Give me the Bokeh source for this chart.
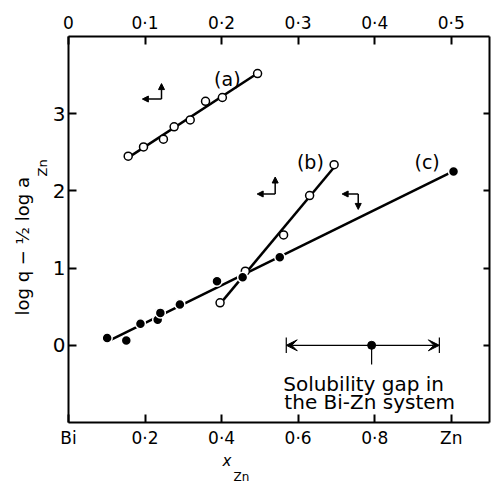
import numpy as np
from bokeh.plotting import figure
from bokeh.models import (Range1d, LinearAxis, FixedTicker, Label, Arrow,
                          NormalHead, VeeHead, Title)
from bokeh.embed import file_html
from bokeh.resources import INLINE

# ---- data -------------------------------------------------------------
# series (a) and (b): read on the top axis (0 - 0.5)
a_x = [0.078, 0.098, 0.124, 0.138, 0.159, 0.179, 0.201, 0.247]
a_y = [2.45, 2.57, 2.67, 2.83, 2.92, 3.16, 3.21, 3.52]
b_x = [0.198, 0.231, 0.281, 0.315, 0.347]
b_y = [0.55, 0.96, 1.43, 1.94, 2.34]
# series (c): read on the bottom axis (x_Zn, Bi -> Zn)
c_x = [0.101, 0.151, 0.188, 0.233, 0.240, 0.291, 0.388, 0.455, 0.552, 1.006]
c_y = [0.095, 0.061, 0.28, 0.33, 0.42, 0.53, 0.83, 0.88, 1.14, 2.25]
# solubility gap in the Bi-Zn system (bottom axis)
gap_lo, gap_mid, gap_hi = 0.569, 0.792, 0.969

bottom_ticks = [0, 0.2, 0.4, 0.6, 0.8, 1.0]
bottom_labels = ["Bi", "0·2", "0·4", "0·6", "0·8", "Zn"]
top_ticks = [0, 0.1, 0.2, 0.3, 0.4, 0.5]
top_labels = ["0", "0·1", "0·2", "0·3", "0·4", "0·5"]
y_ticks = [0, 1, 2, 3]
y_labels = ["0", "1", "2", "3"]

FONT = "DejaVu Sans"

p = figure(width=492, height=483, x_range=Range1d(0, 1.1), y_range=Range1d(-1, 4),
           output_backend="svg", toolbar_location=None,
           min_border_left=68, min_border_right=3, min_border_top=36,
           min_border_bottom=61)
p.extra_x_ranges = {"top": Range1d(0, 0.55)}
p.grid.visible = False
p.outline_line_color = None
p.background_fill_color = "white"
p.border_fill_color = "white"

top_axis = LinearAxis(x_range_name="top")
right_axis = LinearAxis()
p.add_layout(top_axis, "above")
p.add_layout(right_axis, "right")

def style_axis(ax, ticks, labels, size, standoff):
    ax.ticker = FixedTicker(ticks=ticks)
    ax.major_label_overrides = {t: l for t, l in zip(ticks, labels)}
    ax.axis_line_width = 2
    ax.axis_line_color = "black"
    ax.major_tick_line_width = 2
    ax.major_tick_line_color = "black"
    ax.major_tick_in = 8
    ax.major_tick_out = 0
    ax.minor_tick_line_color = None
    ax.major_label_text_font = FONT
    ax.major_label_text_font_size = size
    ax.major_label_text_color = "black"
    ax.major_label_standoff = standoff

style_axis(p.below[0], bottom_ticks, bottom_labels, "17px", 5)
style_axis(top_axis, top_ticks, top_labels, "17px", 4)
style_axis(p.left[0], y_ticks, y_labels, "20px", 3)
style_axis(right_axis, y_ticks, ["" for _ in y_ticks], "1px", 0)
right_axis.major_tick_in = 6

def fit(xs, ys):
    m, b = np.polyfit(xs, ys, 1)
    xx = np.array([min(xs), max(xs)])
    return xx, m * xx + b

# fitted lines
fx, fy = fit(a_x, a_y)
p.line(fx, fy, x_range_name="top", line_width=2.5, line_color="black")
fx, fy = fit(b_x, b_y)
p.line(fx, fy, x_range_name="top", line_width=2.5, line_color="black")
fx, fy = fit(c_x, c_y)
p.line(fx, fy, line_width=2.5, line_color="black")

# points
p.scatter(a_x, a_y, x_range_name="top", marker="circle", size=8,
          fill_color="white", line_color="black", line_width=1.5)
p.scatter(b_x, b_y, x_range_name="top", marker="circle", size=8,
          fill_color="white", line_color="black", line_width=1.5)
p.scatter(c_x, c_y, marker="circle", size=10,
          fill_color="black", line_color="white", line_width=1.5)

# solubility gap marker
for xe in (gap_lo, gap_hi):
    p.add_layout(Arrow(end=VeeHead(size=11, fill_color="black", line_color="black",
                                   line_width=1),
                       x_start=gap_mid, y_start=0, x_end=xe, y_end=0,
                       line_width=1.2, line_color="black"))
p.segment(x0=[gap_lo, gap_hi], y0=[-0.1, -0.1], x1=[gap_lo, gap_hi], y1=[0.1, 0.1],
          line_width=1.2, line_color="black")
p.segment(x0=[gap_mid], y0=[0], x1=[gap_mid], y1=[-0.25], line_width=1.2,
          line_color="black")
p.scatter([gap_mid], [0], marker="circle", size=8, fill_color="black",
          line_color="black")
p.add_layout(Label(x=0.561, y=-0.50, text="Solubility gap in", text_font=FONT,
                   text_font_size="20px", text_baseline="alphabetic",
                   text_color="black"))
p.add_layout(Label(x=0.564, y=-0.74, text="the Bi-Zn system", text_font=FONT,
                   text_font_size="20px", text_baseline="alphabetic",
                   text_color="black"))

# curve labels
for t, lx, ly in (("(a)", 0.415, 3.45), ("(b)", 0.632, 2.38), ("(c)", 0.937, 2.38)):
    p.add_layout(Label(x=lx, y=ly, text=t, text_font=FONT, text_font_size="19px",
                       text_align="center", text_baseline="middle",
                       text_color="black"))

# axis-reference symbols (which axes each curve is read against)
symbols = [  # corner x, corner y, horizontal end x, vertical end y
    (0.243, 3.19, 0.193, 3.39),
    (0.540, 1.96, 0.493, 2.18),
    (0.757, 1.96, 0.715, 1.76),
]
for cx0, cy0, hx, vy in symbols:
    p.add_layout(Arrow(end=NormalHead(size=6, fill_color="black", line_color="black"),
                       x_start=cx0, y_start=cy0, x_end=hx, y_end=cy0,
                       line_width=1.5, line_color="black"))
    p.add_layout(Arrow(end=NormalHead(size=6, fill_color="black", line_color="black"),
                       x_start=cx0, y_start=cy0, x_end=cx0, y_end=vy,
                       line_width=1.5, line_color="black"))

# y axis title (subscript first: it sits closer to the axis)
p.add_layout(Title(text="Zn", align="left", offset=246, standoff=0,
                   text_font=FONT, text_font_size="13px", text_font_style="normal",
                   text_color="black"), "left")
p.add_layout(Title(text="log q − ½ log a", align="left", offset=107, standoff=0,
                   text_font=FONT, text_font_size="18px", text_font_style="normal",
                   text_color="black"), "left")
# x axis title
p.add_layout(Title(text="x", align="left", offset=154, standoff=-2,
                   text_font=FONT, text_font_size="15px", text_font_style="italic",
                   text_color="black"), "below")
p.add_layout(Title(text="Zn", align="left", offset=165, standoff=-2,
                   text_font=FONT, text_font_size="12px", text_font_style="normal",
                   text_color="black"), "below")

open("out.html", "w").write(file_html(p, INLINE))
